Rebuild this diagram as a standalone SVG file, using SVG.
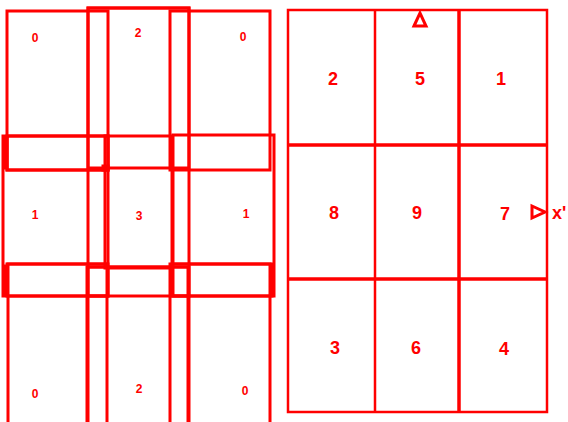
<svg xmlns="http://www.w3.org/2000/svg" width="568" height="422" viewBox="0 0 568 422">
<style>
.t{fill:none;stroke:#ff0000;stroke-width:3}
.s{fill:none;stroke:#ff0000;stroke-width:3}
.g{fill:none;stroke:#ff0000;stroke-width:2.5}
.gt{fill:none;stroke:#ff0000;stroke-width:3.5}
.lb{font-family:"Liberation Sans",Arial,sans-serif;font-weight:bold;font-size:12px;fill:#ff0000;text-anchor:middle}
.rb{font-family:"Liberation Sans",Arial,sans-serif;font-weight:bold;font-size:18px;fill:#ff0000;text-anchor:middle}
.mk{fill:none;stroke:#ff0000;stroke-width:3;stroke-linejoin:miter}
</style>
<rect width="568" height="422" fill="#ffffff"/>
<g id="left-tiles">
  <g id="tile-top-left"><rect class="t" x="7" y="11" width="101" height="159"/><text class="lb" x="35" y="42">0</text></g>
  <g id="tile-top-mid"><rect class="t" x="88" y="8" width="101" height="160"/><rect class="t" x="88" y="8" width="101" height="420"/><text class="lb" x="138" y="37">2</text></g>
  <g id="tile-top-right"><rect class="t" x="170" y="11" width="100" height="159"/><text class="lb" x="243" y="41">0</text></g>
  <g id="tile-mid-left"><rect class="t" x="3" y="136" width="105" height="160"/><rect class="s" x="7" y="136" width="101" height="34"/><text class="lb" x="35" y="219">1</text></g>
  <g id="tile-mid-mid"><rect class="t" x="105" y="136" width="67" height="132"/><text class="lb" x="139" y="220">3</text></g>
  <g id="tile-mid-right"><rect class="t" x="173" y="135" width="101" height="161"/><text class="lb" x="246" y="218">1</text></g>
  <g id="strips"><rect class="s" x="7" y="264" width="101" height="32"/><rect class="s" x="88" y="267" width="101" height="29"/><rect class="s" x="172" y="264" width="100" height="32"/><rect class="s" x="103" y="166" width="5" height="4" fill="#ff0000"/><rect class="s" x="4" y="138" width="3" height="30" fill="#ff0000"/><rect class="s" x="4" y="266" width="3" height="28" fill="#ff0000"/></g>
  <g id="tile-bot-left"><rect class="t" x="8" y="264" width="99" height="170"/><text class="lb" x="35" y="398">0</text></g>
  <g id="tile-bot-mid"><rect class="t" x="87" y="267" width="101" height="170"/><text class="lb" x="139" y="393">2</text></g>
  <g id="tile-bot-right"><rect class="t" x="170" y="264" width="100" height="170"/><text class="lb" x="245" y="395">0</text></g>
</g>
<g id="grid">
  <rect class="g" x="288" y="10" width="259" height="402"/>
  <line class="g" x1="375" y1="10" x2="375" y2="413"/>
  <line class="gt" x1="459" y1="10" x2="459" y2="412"/>
  <line class="gt" x1="287" y1="145" x2="547" y2="145"/>
  <line class="gt" x1="287" y1="279" x2="547" y2="279"/>
</g>
<g id="cell-2"><text class="rb" x="333" y="85">2</text></g>
<g id="cell-5"><text class="rb" x="420" y="85">5</text></g>
<g id="cell-1"><text class="rb" x="501" y="85">1</text></g>
<g id="cell-8"><text class="rb" x="334" y="219">8</text></g>
<g id="cell-9"><text class="rb" x="417" y="219">9</text></g>
<g id="cell-7"><text class="rb" x="505" y="220">7</text></g>
<g id="cell-3"><text class="rb" x="335" y="354">3</text></g>
<g id="cell-6"><text class="rb" x="416" y="354">6</text></g>
<g id="cell-4"><text class="rb" x="504" y="355">4</text></g>
<g id="markers">
  <polygon class="mk" points="414,26 420,13 426,26"/>
  <polygon class="mk" points="532,206 545,212 532,218"/>
  <text class="rb" x="552" y="219" style="text-anchor:start">x'</text>
</g>
</svg>
